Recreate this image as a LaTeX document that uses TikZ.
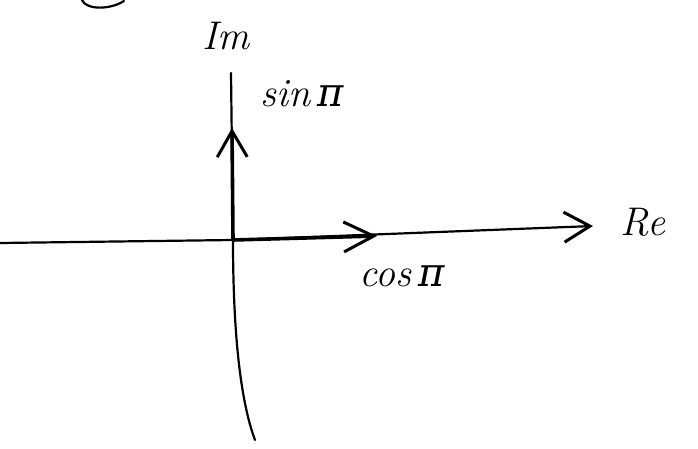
\documentclass[tikz,border=0pt]{standalone}
\usepackage{fontspec}
\setmainfont{Latin Modern Roman}
\newfontfamily\grk{DejaVu Serif}
\usetikzlibrary{arrows.meta}
\begin{document}
\begin{tikzpicture}[x=1pt,y=-1pt,
  axis/.style={line width=2.2pt,line cap=round},
  vec/.style={line width=3.6pt,line cap=round},
  lbl/.style={font=\fontsize{40}{42}\selectfont\itshape,inner sep=0pt},
  barb/.style={-{Straight Barb[length=#1,width=30pt,line width=3pt]}}]
\useasboundingbox (0,0) rectangle (698,449);
% coordinates
\coordinate (O) at (233,240);
\coordinate (hleft) at (0,243);
\coordinate (retip) at (593,226);
\coordinate (vtop) at (231,73);
\coordinate (vbot) at (255,440);
\coordinate (costip) at (377,236);
\coordinate (sintip) at (232,128);
\coordinate (c1) at (82,0);
\coordinate (c2) at (124,1);
% labels
\node[lbl] (im) at (226,36) {Im};
\node[lbl] (re) at (643,222) {Re};
\node[lbl] (sin) at (302,94) {sin\,{\grk\itshape π}};
\node[lbl] (cos) at (402,276) {cos\,{\grk\itshape π}};
% partial curve at top
\draw[axis] (c1) .. controls (86,10) and (110,10) .. (c2);
% axes
\draw[axis] (hleft) -- (O);
\draw[axis,barb=26pt] (O) -- (retip);
\draw[axis] (vtop) -- (O) .. controls (233,330) and (240,400) .. (vbot);
% vectors
\draw[vec,barb=30pt] (O) -- (costip);
\draw[vec,barb=26pt] (O) -- (sintip);
\end{tikzpicture}
\end{document}
